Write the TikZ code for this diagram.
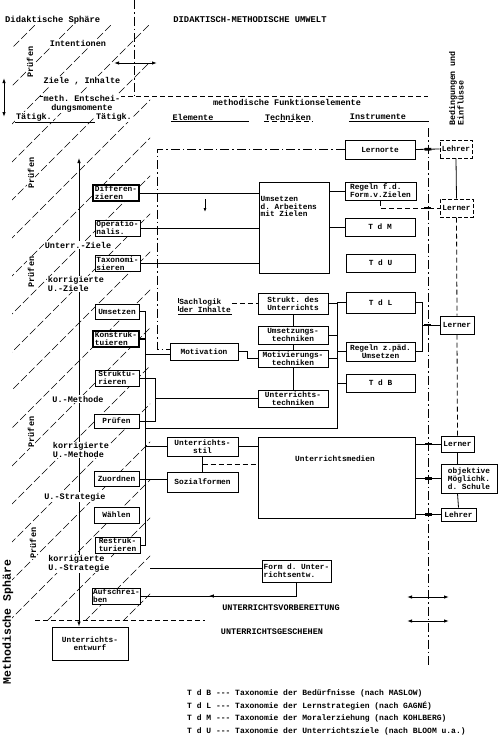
\documentclass[tikz,border=0pt]{standalone}
\usepackage{fontspec}
\setmonofont{Liberation Mono}
\usetikzlibrary{arrows.meta,calc,decorations.markings}
\newcommand{\myfs}[1]{\fontsize{#1}{#1}\selectfont}
\begin{document}
\begin{tikzpicture}[x=1pt,y=-1pt,
 every node/.style={font=\ttfamily\bfseries\myfs{7.8}, inner sep=1pt},
 box/.style={draw, fill=white, line width=1pt, align=left},
 tbox/.style={box, line width=2pt},
 dbox/.style={box, dash pattern=on 4pt off 2pt},
 lab/.style={fill=white, inner sep=1pt, font=\ttfamily\bfseries\myfs{8.5}},
 conn/.style={line width=0.8pt},
 dashdot/.style={line width=0.8pt, dash pattern=on 9pt off 3pt on 1.5pt off 3pt},
 dline/.style={line width=0.8pt, dash pattern=on 5pt off 3pt},
 hatch/.style={line width=0.5pt, dash pattern=on 8pt off 3pt},
 tickat/.style={postaction={decorate, decoration={markings, mark=at position #1 with {\fill (-3.5pt,-1.3pt) rectangle (3.5pt,1.3pt);}}}},
 midarrow/.style={postaction={decorate, decoration={markings, mark=at position #1 with {\arrow{Latex[length=5pt,width=3.5pt]}}}}},
 dblarrow/.style={line width=0.9pt, {Latex[length=5pt,width=3.5pt]}-{Latex[length=5pt,width=3.5pt]}},
]
\fill[white] (0,0) rectangle (499,736);
\useasboundingbox (0,0) rectangle (499,736);

% hatching of the spheres
\begin{scope}
\clip (12,25) rectangle (150,620);
\foreach \i in {0,...,20} { \draw[hatch] ({-600+38*\i},622) -- ++(600,-600); }
\end{scope}

% titles
\node[anchor=west, font=\ttfamily\bfseries\myfs{8.8}] (didsph) at (4,20) {Didaktische Sphäre};
\node[font=\ttfamily\bfseries\myfs{8.8}] (umwelt) at (250,20) {DIDAKTISCH-METHODISCHE UMWELT};
\node[rotate=90, font=\ttfamily\bfseries\myfs{11.5}] (msph) at (8,622) {Methodische Sphäre};
\node[rotate=90, anchor=north west, align=left, font=\ttfamily\bfseries\myfs{8.3}] (beding) at (448,127) {Bedingungen und\\Einflüsse};

% upper frame lines
\coordinate (vtop) at (134,0);
\coordinate (vcor) at (134,96);
\coordinate (hl) at (40,96);
\coordinate (hr) at (428,96);
\draw[dashdot] (vtop) -- (vcor);
\draw[dline] (hl) -- (hr);
\coordinate (aL) at (114,63);
\coordinate (aR) at (157,63);
\draw[dblarrow] (aL) -- (aR);
\coordinate (bT) at (4,78);
\coordinate (bB) at (4,117);
\draw[dblarrow] (bT) -- (bB);

% upper left labels
\node[lab] (intent) at (78,43) {Intentionen};
\node[lab] (zielinh) at (82,81) {Ziele , Inhalte};
\node[lab, align=center] (mentsch) at (82,104) {meth. Entschei-\\dungsmomente};
\node[lab] (taet1) at (34,117) {Tätigk.};
\node[lab] (taet2) at (114,117) {Tätigk.};
\draw[conn] (taet1.south west) -- (taet2.south west);

% methodische Funktionselemente
\node[font=\ttfamily\bfseries\myfs{8.5}] (mfunk) at (287,102) {methodische Funktionselemente};
\node[font=\ttfamily\bfseries\myfs{8.5}] (elem) at (193,117) {Elemente};
\node[font=\ttfamily\bfseries\myfs{8.5}] (techn) at (288,117) {Techniken};
\node[font=\ttfamily\bfseries\myfs{8.5}] (instr) at (378,117) {Instrumente};
\draw[conn] (elem.south west) -- ++(78,0);
\draw[dline] (techn.south west) -- (techn.south east);
\draw[conn] (instr.south west) -- ++(80,0);

% Pruefen labels
\node[lab, rotate=90] (pr0) at (30,62) {Prüfen};
\node[lab, rotate=90] (pr1) at (31,173) {Prüfen};
\node[lab, rotate=90] (pr2) at (31,272) {Prüfen};
\node[lab, rotate=90] (pr3) at (31,432) {Prüfen};
\node[lab, rotate=90] (pr4) at (33,543) {Prüfen};

% left column: main vertical line
\node[box, minimum width=76, minimum height=33, align=center] (entw) at (90,643.5) {Unterrichts-\\entwurf};
\coordinate (ztop) at (79,158);
\draw[conn, {Latex[length=5pt,width=3.5pt]}-{Latex[length=5pt,width=3.5pt]}] (ztop) -- (ztop |- entw.north);
\node[lab] (uziele) at (78,245) {Unterr.-Ziele};
\node[lab, align=left] (kuziele) at (76,284) {korrigierte\\U.-Ziele};
\node[lab] (umeth) at (78,399) {U.-Methode};
\node[lab, align=left] (kumeth) at (81,450) {korrigierte\\U.-Methode};
\node[lab] (ustrat) at (75,497) {U.-Strategie};
\node[lab, align=left] (kustrat) at (79,564) {korrigierte\\U.-Strategie};

% left boxes
\node[tbox, minimum width=46, minimum height=16] (diff) at (116,193) {Differen-\\zieren};
\node[box, minimum width=45, minimum height=16] (oper) at (117.5,228) {Operatio-\\nalis.};
\node[box, minimum width=45, minimum height=15] (taxo) at (117.5,263.5) {Taxonomi-\\sieren};
\node[box, minimum width=44, minimum height=15] (ums) at (117,311.5) {Umsetzen};
\node[tbox, minimum width=46, minimum height=16] (konst) at (116,339) {Konstruk-\\tuieren};
\node[box, minimum width=44, minimum height=16] (strukt) at (117,378) {Struktu-\\rieren};
\node[box, minimum width=45, minimum height=14] (pruef) at (116.5,421) {Prüfen};
\node[box, minimum width=45, minimum height=15] (zuord) at (116.5,479) {Zuordnen};
\node[box, minimum width=45, minimum height=16] (waehl) at (116.5,515) {Wählen};
\node[box, minimum width=45, minimum height=16] (restr) at (117.5,545) {Restruk-\\turieren};
\node[box, minimum width=45, minimum height=16] (aufs) at (116.5,596) {Aufschrei-\\ben};

% middle boxes
\node[box, minimum width=68, minimum height=17, align=center] (motiv) at (204,351.5) {Motivation};
\node[box, minimum width=71, minimum height=19, align=center] (ustil) at (202.5,446.5) {Unterrichts-\\stil};
\node[box, minimum width=71, minimum height=20, align=center] (sozf) at (202.5,482) {Sozialformen};
\node[box, minimum width=70, minimum height=91] (uad) at (294,227.5) {};
\node[anchor=north west, align=left] (uadt) at (259.5,195) {Umsetzen\\d. Arbeitens\\mit Zielen};
\node[box, minimum width=70, minimum height=21, align=center] (struk) at (293,303.5) {Strukt. des\\Unterrichts};
\node[box, minimum width=70, minimum height=18, align=center] (umst) at (293,335) {Umsetzungs-\\techniken};
\node[box, minimum width=70, minimum height=17, align=center] (motech) at (293,358.5) {Motivierungs-\\techniken};
\node[box, minimum width=70, minimum height=17, align=center] (utech) at (293,398.5) {Unterrichts-\\techniken};
\node[box, minimum width=157, minimum height=81] (umed) at (336.5,477.5) {};
\node (umedt) at (335,459) {Unterrichtsmedien};
\node[box, minimum width=69, minimum height=22] (form) at (296.5,571) {Form d. Unter-\\richtsentw.};
\node[align=left] (sachl) at (205,306) {Sachlogik\\der Inhalte};
\draw[conn] (sachl.south west) -- (sachl.south east);
\draw[dline] (sachl.north west) -- (sachl.south west);

% right boxes
\node[box, minimum width=70, minimum height=19, align=center] (lernorte) at (380,149.5) {Lernorte};
\node[box, minimum width=71, minimum height=18] (regf) at (380.5,191) {Regeln f.d.\\Form.v.Zielen};
\node[box, minimum width=70, minimum height=18, align=center] (tdm) at (380,227) {T d M};
\node[box, minimum width=69, minimum height=18, align=center] (tdu) at (380.5,263) {T d U};
\node[box, minimum width=69, minimum height=21, align=center] (tdl) at (380.5,302.5) {T d L};
\node[box, minimum width=69, minimum height=19, align=center] (regp) at (380.5,351.5) {Regeln z.päd.\\Umsetzen};
\node[box, minimum width=69, minimum height=18, align=center] (tdb) at (380.5,383) {T d B};

\node[dbox, minimum width=32, minimum height=18] (lehrer1) at (456,149) {Lehrer};
\node[dbox, minimum width=33, minimum height=18] (lerner1) at (456.5,208) {Lerner};
\node[box, minimum width=34, minimum height=18] (lerner2) at (457,325) {Lerner};
\node[box, minimum width=33, minimum height=16] (lerner3) at (457.5,444) {Lerner};
\node[box, minimum width=56, minimum height=29] (objm) at (469,478.5) {objektive\\Möglichk.\\d. Schule};
\node[box, minimum width=35, minimum height=13] (lehrer2) at (458.5,514.5) {Lehrer};

% long dash-dot divider on the right
\coordinate (rtop) at (428,128);
\coordinate (rbot) at (428,668);
\draw[dashdot] (rtop) -- (rbot);

% dash-dot frame from Lernorte to Motivation
\coordinate (ddx) at (157,0);
\coordinate (mvd) at ($(motiv.west)+(0,-2.5)$);
\coordinate (mvs) at ($(motiv.west)+(0,3)$);
\draw[dashdot] (lernorte.west) -- (lernorte.west -| ddx) -- (mvd -| ddx) -- (mvd);

% connectors: goals
\draw[conn] (diff.east) -- (diff.east -| uad.west);
\draw[conn] (oper.east) -- (oper.east -| uad.west);
\draw[conn] (taxo.east) -- (taxo.east -| uad.west);
\coordinate (sa) at (205,199);
\draw[conn, -{Latex[length=4pt,width=3pt]}] (sa) -- ++(0,13);
\draw[conn] (uad.east |- regf.west) -- (regf.west);
\draw[conn] (uad.east |- tdm.west) -- (tdm.west);
\draw[conn, tickat=0.52] (lernorte.east) -- (lehrer1.west);
\draw[dline, tickat=0.82] (regf.south) |- (lerner1.west);

% right column
\draw[conn] (lehrer1.south) -- (lerner1.north);
\draw[dline] (lerner1.south) -- (lerner2.north);
\draw[dline] (lerner2.south) -- (lerner3.north);
\draw[conn] (lerner3.south) -- (lerner3.south |- objm.north);
\draw[conn] (lerner3.south |- objm.south) -- (lehrer2.north);

% left bus
\coordinate (lbx) at (145,0);
\draw[conn] (ums.east) -- (ums.east -| lbx) -- (restr.east -| lbx) -- (restr.east);
\draw[line width=2pt] (konst.east) -- (konst.east -| lbx);
\draw[conn] (mvs -| lbx) -- (mvs);
\draw[conn] (ustil.west -| lbx) -- (ustil.west);
\draw[conn] (zuord.east) -- (zuord.east -| sozf.west);
\coordinate (sx) at (155,0);
\draw[conn] (strukt.east) -| (sx |- pruef.east) -- (pruef.east);
\draw[conn] (sx |- utech.west) -- (utech.west);

% right bus
\coordinate (rbx) at (337,0);
\coordinate (p428) at (145,428);
\draw[conn] (p428) -- (rbx |- p428) -- (rbx |- tdl.west) -- (tdl.west);
\draw[conn] (struk.east) -- (struk.east -| rbx);
\draw[conn] (umst.east) -- (umst.east -| rbx);
\draw[conn] (motech.east) -- (motech.east -| rbx);
\draw[conn] (rbx |- regp.west) -- (regp.west);
\draw[conn] (rbx |- tdb.west) -- (tdb.west);
\draw[conn] (struk.south) -- (umst.north);
\draw[conn] (umst.south) -- (motech.north);
\draw[conn] (motech.south) -- (utech.north);
\draw[dline] (sachl.east |- struk.west) -- (struk.west);
\draw[conn] (motiv.east) -- ++(9,0) |- (motech.west);

% T d L bracket to Lerner
\coordinate (brx) at (422,0);
\draw[conn] (tdl.east) -| (brx |- regp.east) -- (regp.east);
\draw[conn, tickat=0.33] (brx |- lerner2.west) -- (lerner2.west);

% Unterrichtsstil / Sozialformen / Medien
\draw[conn] (ustil.south) -- (ustil.south |- sozf.north);
\coordinate (usm) at ($(ustil.south)!0.5!(ustil.south |- sozf.north)$);
\draw[dline] (usm) -- (usm -| umed.west);
\draw[conn] (ustil.east) -- (ustil.east -| umed.west);
\draw[conn, tickat=0.5] (umed.east |- lerner3.west) -- (lerner3.west);
\draw[conn, tickat=0.5] (umed.east |- objm.west) -- (objm.west);
\draw[conn, tickat=0.5] (umed.east |- lehrer2.west) -- (lehrer2.west);

% Form des Unterrichtsentwurfs
\coordinate (fl) at (150,568);
\draw[conn] (fl) -- (fl -| form.west);
\draw[conn, midarrow=0.6] (form.south) |- (aufs.east);

% Vorbereitung / Geschehen
\coordinate (sepl) at (35,620);
\coordinate (sepr) at (205,620);
\draw[dline] (sepl) -- (sepr);
\node[font=\ttfamily\bfseries\myfs{8.5}] (uvor) at (281,608) {UNTERRICHTSVORBEREITUNG};
\node[font=\ttfamily\bfseries\myfs{8.5}] (uges) at (272,632) {UNTERRICHTSGESCHEHEN};
\coordinate (d1l) at (407,597);
\coordinate (d1r) at (449,597);
\coordinate (d2l) at (407,621);
\coordinate (d2r) at (449,621);
\draw[dblarrow] (d1l) -- (d1r);
\draw[dblarrow] (d2l) -- (d2r);

% legend
\node[anchor=west, font=\ttfamily\bfseries\myfs{8}] (leg1) at (186,693) {T d B --- Taxonomie der Bedürfnisse (nach MASLOW)};
\node[anchor=west, font=\ttfamily\bfseries\myfs{8}] (leg2) at (186,706) {T d L --- Taxonomie der Lernstrategien (nach GAGNÉ)};
\node[anchor=west, font=\ttfamily\bfseries\myfs{8}] (leg3) at (186,718) {T d M --- Taxonomie der Moralerziehung (nach KOHLBERG)};
\node[anchor=west, font=\ttfamily\bfseries\myfs{8}] (leg4) at (186,731) {T d U --- Taxonomie der Unterrichtsziele (nach BLOOM u.a.)};
\end{tikzpicture}
\end{document}
